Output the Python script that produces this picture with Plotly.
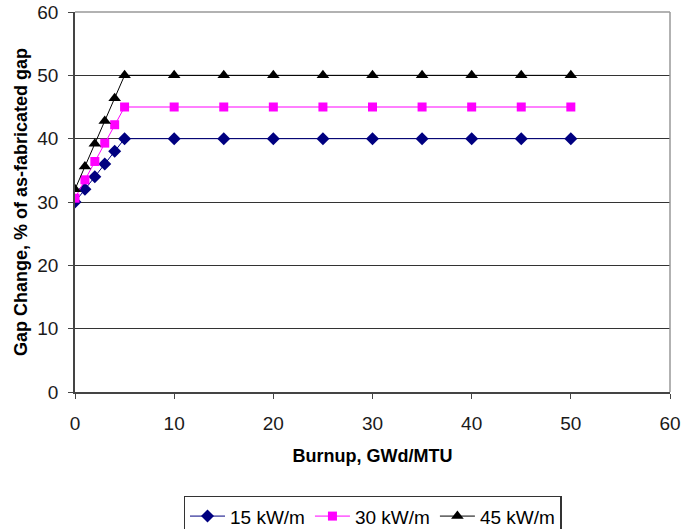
import plotly.graph_objects as go

burnup = [0, 1, 2, 3, 4, 5, 10, 15, 20, 25, 30, 35, 40, 45, 50]
gap_15 = [30.0, 32.0, 34.0, 36.0, 38.0, 40.0, 40, 40, 40, 40, 40, 40, 40, 40, 40]
gap_30 = [30.6, 33.5, 36.4, 39.3, 42.2, 45.0, 45, 45, 45, 45, 45, 45, 45, 45, 45]
gap_45 = [32.0, 35.6, 39.2, 42.8, 46.4, 50.0, 50, 50, 50, 50, 50, 50, 50, 50, 50]
series_names = ["15 kW/m", "30 kW/m", "45 kW/m"]
x_title = "Burnup, GWd/MTU"
y_title = "Gap Change, % of as-fabricated gap"

FONT = "Liberation Sans, Arial, sans-serif"

fig = go.Figure()
fig.add_trace(go.Scatter(x=burnup, y=gap_15, name=series_names[0], mode="lines+markers",
                         line=dict(color="#000080", width=1),
                         marker=dict(symbol="diamond", size=10, color="#000080")))
fig.add_trace(go.Scatter(x=burnup, y=gap_30, name=series_names[1], mode="lines+markers",
                         line=dict(color="#FF00FF", width=1),
                         marker=dict(symbol="square", size=9, color="#FF00FF")))
fig.add_trace(go.Scatter(x=burnup, y=gap_45, name=series_names[2], mode="lines+markers",
                         line=dict(color="#000000", width=1),
                         marker=dict(symbol="triangle-up", size=11, color="#000000")))

# plot-area border (top and right)
fig.add_shape(type="line", xref="x domain", yref="y domain", x0=0, x1=1, y0=1, y1=1,
              line=dict(color="#999999", width=1.5), layer="above")
fig.add_shape(type="line", xref="x domain", yref="y domain", x0=1, x1=1, y0=0, y1=1,
              line=dict(color="#999999", width=1.5), layer="above")

# y-axis title as a rotated annotation for exact placement
fig.add_annotation(text="<b>" + y_title + "</b>", xref="paper", yref="paper",
                   x=-0.0908, y=0.5, xanchor="center", yanchor="middle", textangle=-90,
                   showarrow=False, font=dict(family=FONT, size=18, color="#000000"))

fig.update_layout(
    width=683, height=529,
    margin=dict(l=75, r=13, t=12, b=137, autoexpand=False),
    paper_bgcolor="white", plot_bgcolor="white",
    font=dict(family=FONT, size=19, color="#1a1a1a"),
    showlegend=True,
    legend=dict(orientation="h", x=0.5, xanchor="center", y=-0.273, yanchor="top",
                bordercolor="#333333", borderwidth=1.5, font=dict(size=19, color="#000000"),
                itemwidth=35, tracegroupgap=0),
)
fig.update_xaxes(range=[0, 60], tickmode="array", tickvals=[0, 10, 20, 30, 40, 50, 60],
                 automargin=False,
                 showgrid=False, zeroline=False, showline=True, linecolor="#444444", linewidth=1.5,
                 ticks="outside", ticklen=5, tickcolor="#444444", ticklabelstandoff=8,
                 title=dict(text="<b>" + x_title + "</b>", font=dict(size=18, color="#000000"),
                            standoff=17))
fig.update_yaxes(range=[0, 60], tickmode="array", tickvals=[0, 10, 20, 30, 40, 50, 60],
                 automargin=False,
                 showgrid=True, gridcolor="#333333", gridwidth=1.2, zeroline=False,
                 showline=True, linecolor="#444444", linewidth=1.5,
                 ticks="outside", ticklen=5, tickcolor="#444444", ticklabelstandoff=6)

# remove the page's default 8px body margin so the figure fills the window exactly
fig.write_html("out.html", config={"displayModeBar": False},
               post_script="document.body.style.margin='0';")
